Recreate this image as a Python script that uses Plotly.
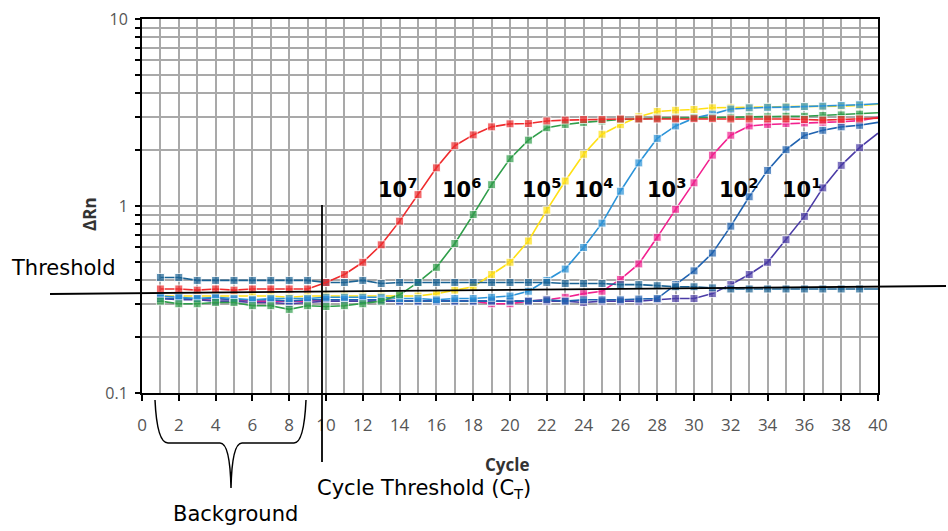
import plotly.graph_objects as go

cycles = list(range(1, 41))

ntc = [0.415, 0.415, 0.40, 0.40, 0.40, 0.40, 0.40, 0.40, 0.40, 0.39,
       0.39, 0.40, 0.385, 0.39, 0.39, 0.39, 0.39, 0.39, 0.39, 0.39,
       0.39, 0.39, 0.385, 0.385, 0.385, 0.38, 0.38, 0.375, 0.37, 0.37,
       0.365, 0.36, 0.36, 0.36, 0.36, 0.36, 0.36, 0.36, 0.36, 0.36]

s_1e7 = [0.36, 0.36, 0.355, 0.36, 0.355, 0.36, 0.36, 0.36, 0.36, 0.39,
         0.43, 0.50, 0.62, 0.83, 1.15, 1.60, 2.10, 2.40, 2.65, 2.75,
         2.76, 2.85, 2.88, 2.90, 2.90, 2.92, 2.92, 2.92, 2.92, 2.93,
         2.93, 2.92, 2.92, 2.92, 2.92, 2.90, 2.88, 2.90, 2.92, 2.95]

s_1e6 = [0.31, 0.30, 0.30, 0.305, 0.305, 0.293, 0.293, 0.28, 0.293, 0.29,
         0.293, 0.30, 0.31, 0.335, 0.39, 0.47, 0.63, 0.90, 1.30, 1.79,
         2.25, 2.62, 2.73, 2.80, 2.85, 2.90, 2.92, 2.95, 2.95, 2.97,
         2.97, 2.98, 3.00, 3.00, 3.02, 3.02, 3.05, 3.07, 3.10, 3.15]

s_1e5 = [0.33, 0.33, 0.33, 0.33, 0.33, 0.33, 0.33, 0.325, 0.33, 0.33,
         0.33, 0.33, 0.33, 0.33, 0.33, 0.34, 0.355, 0.37, 0.43, 0.50,
         0.65, 0.95, 1.36, 1.89, 2.42, 2.72, 3.00, 3.20, 3.25, 3.28,
         3.35, 3.35, 3.35, 3.38, 3.40, 3.40, 3.40, 3.42, 3.45, 3.50]

s_1e4 = [0.33, 0.325, 0.32, 0.325, 0.32, 0.315, 0.32, 0.32, 0.32, 0.325,
         0.325, 0.325, 0.325, 0.32, 0.32, 0.315, 0.32, 0.32, 0.325, 0.33,
         0.35, 0.40, 0.46, 0.60, 0.81, 1.20, 1.70, 2.30, 2.68, 2.95,
         3.10, 3.30, 3.35, 3.37, 3.38, 3.40, 3.42, 3.45, 3.48, 3.52]

s_1e3 = [0.32, 0.32, 0.315, 0.32, 0.315, 0.31, 0.31, 0.31, 0.31, 0.315,
         0.315, 0.315, 0.315, 0.31, 0.31, 0.31, 0.31, 0.31, 0.30, 0.30,
         0.31, 0.315, 0.325, 0.34, 0.35, 0.405, 0.49, 0.68, 0.96, 1.33,
         1.87, 2.39, 2.68, 2.73, 2.76, 2.78, 2.80, 2.82, 2.86, 2.98]

s_1e2 = [0.32, 0.32, 0.32, 0.32, 0.315, 0.315, 0.315, 0.31, 0.315, 0.315,
         0.315, 0.315, 0.315, 0.31, 0.31, 0.31, 0.31, 0.31, 0.31, 0.31,
         0.31, 0.315, 0.31, 0.315, 0.315, 0.315, 0.318, 0.32, 0.38, 0.45,
         0.56, 0.78, 1.12, 1.55, 2.00, 2.38, 2.54, 2.65, 2.70, 2.80]

s_1e1 = [0.32, 0.315, 0.315, 0.31, 0.31, 0.305, 0.305, 0.30, 0.305, 0.31,
         0.31, 0.31, 0.31, 0.31, 0.31, 0.31, 0.31, 0.31, 0.31, 0.31,
         0.31, 0.31, 0.31, 0.305, 0.31, 0.31, 0.31, 0.315, 0.32, 0.32,
         0.34, 0.38, 0.43, 0.50, 0.66, 0.88, 1.25, 1.65, 2.05, 2.45]

series_labels = ["10<sup>7</sup>", "10<sup>6</sup>", "10<sup>5</sup>", "10<sup>4</sup>",
                 "10<sup>3</sup>", "10<sup>2</sup>", "10<sup>1</sup>"]

x_tickvals = list(range(0, 41, 2))
y_tickvals = [0.1, 1, 10]
y_ticktext = ["0.1", "1", "10"]
y_minorvals = [0.2, 0.3, 0.4, 0.5, 0.6, 0.7, 0.8, 0.9,
               2, 3, 4, 5, 6, 7, 8, 9]

# drawing order (bottom to top) and colours
traces = [
    ("10^5", s_1e5, "#ffe014"),
    ("10^3", s_1e3, "#f2208f"),
    ("10^1", s_1e1, "#4a3ba6"),
    ("10^2", s_1e2, "#1f62b0"),
    ("10^4", s_1e4, "#2b93d8"),
    ("10^6", s_1e6, "#2f9e4a"),
    ("NTC", ntc, "#1b6394"),
    ("10^7", s_1e7, "#ef2b2d"),
]

W, H = 948, 531
L, R, T, B = 142, 878, 19, 393


def px(xp):
    return (xp - L) / (R - L)


def py(yp):
    return (B - yp) / (B - T)


fig = go.Figure()
msizes = [8] * (len(cycles) - 1) + [0]
for name, vals, col in traces:
    fig.add_trace(go.Scatter(
        x=cycles, y=vals, mode="lines+markers", name=name,
        line=dict(color=col, width=1.6),
        marker=dict(symbol="square", size=msizes, color=col),
        showlegend=False, hoverinfo="x+y+name",
    ))

grid = "#a9a9a9"
fig.update_layout(
    width=W, height=H,
    margin=dict(l=L, r=W - R, t=T, b=H - B, autoexpand=False),
    paper_bgcolor="white", plot_bgcolor="white",
    xaxis=dict(
        range=[0, 40], tickvals=x_tickvals, ticks="outside", ticklen=6,
        tickwidth=1.5, tickcolor="black",
        showgrid=True, gridcolor=grid, gridwidth=1.6,
        minor=dict(dtick=1, tick0=0, showgrid=True, gridcolor=grid, gridwidth=1.6),
        showline=True, linecolor="black", linewidth=2, mirror=True,
        tickfont=dict(family="Open Sans", size=17, color="#555555"),
        ticklabelstandoff=10, zeroline=False,
    ),
    yaxis=dict(
        type="log", range=[-1, 1], tickmode="array", tickvals=y_tickvals,
        ticktext=y_ticktext,
        ticks="outside", ticklen=5, tickwidth=1.5, tickcolor="black",
        showgrid=True, gridcolor=grid, gridwidth=1.6,
        minor=dict(tickmode="array", tickvals=y_minorvals, ticks="outside",
                   ticklen=5, tickwidth=1.5, tickcolor="black",
                   showgrid=True, gridcolor=grid, gridwidth=1.6),
        showline=True, linecolor="black", linewidth=2, mirror=True,
        tickfont=dict(family="Open Sans", size=16, color="#555555"),
        ticklabelstandoff=4, zeroline=False,
    ),
)

ann = []
label_px = [397, 461, 541, 593, 666, 738, 801]
for lab, xp in zip(series_labels, label_px):
    ann.append(dict(x=px(xp), y=py(188), xref="paper", yref="paper",
                    text="<b>" + lab + "</b>", showarrow=False,
                    font=dict(family="DejaVu Sans", size=21, color="black"),
                    xanchor="center", yanchor="middle"))

ann += [
    dict(x=px(89), y=py(214), xref="paper", yref="paper", text="<b>ΔRn</b>",
         textangle=-90, showarrow=False, xanchor="center", yanchor="middle",
         font=dict(family="Open Sans", size=17, color="#333333")),
    dict(x=px(507), y=py(464), xref="paper", yref="paper", text="<b>Cycle</b>",
         showarrow=False, xanchor="center", yanchor="middle",
         font=dict(family="Open Sans", size=17, color="#333333")),
    dict(x=px(9), y=py(268), xref="paper", yref="paper", text="Threshold",
         xanchor="left", yanchor="middle", showarrow=False,
         font=dict(family="DejaVu Sans", size=21, color="black")),
    dict(x=px(315), y=py(489), xref="paper", yref="paper",
         text="Cycle Threshold (C<sub>T</sub>)", xanchor="left", yanchor="middle",
         showarrow=False,
         font=dict(family="DejaVu Sans", size=21, color="black")),
    dict(x=px(235), y=py(514), xref="paper", yref="paper", text="Background",
         showarrow=False, xanchor="center", yanchor="middle",
         font=dict(family="DejaVu Sans", size=21, color="black")),
]
fig.update_layout(annotations=ann)


def pt(xp, yp):
    return f"{px(xp):.5f},{py(yp):.5f}"


brace = ("M " + pt(155, 400) + " Q " + pt(157, 443) + " " + pt(168, 443) +
         " L " + pt(220, 443) + " Q " + pt(230, 443) + " " + pt(231, 488) +
         " Q " + pt(232, 443) + " " + pt(242, 443) +
         " L " + pt(294, 443) + " Q " + pt(304, 443) + " " + pt(306, 400))

fig.update_layout(shapes=[
    dict(type="line", xref="paper", yref="paper",
         x0=px(50), y0=py(294), x1=px(946), y1=py(286),
         line=dict(color="black", width=1.8)),
    dict(type="line", xref="paper", yref="paper",
         x0=px(322), y0=py(205), x1=px(322), y1=py(462),
         line=dict(color="black", width=1.8)),
    dict(type="path", xref="paper", yref="paper", path=brace,
         line=dict(color="black", width=1.5)),
])

fig.write_html("out.html",
               config={"displayModeBar": False},
               post_script="document.body.style.margin='0';")
